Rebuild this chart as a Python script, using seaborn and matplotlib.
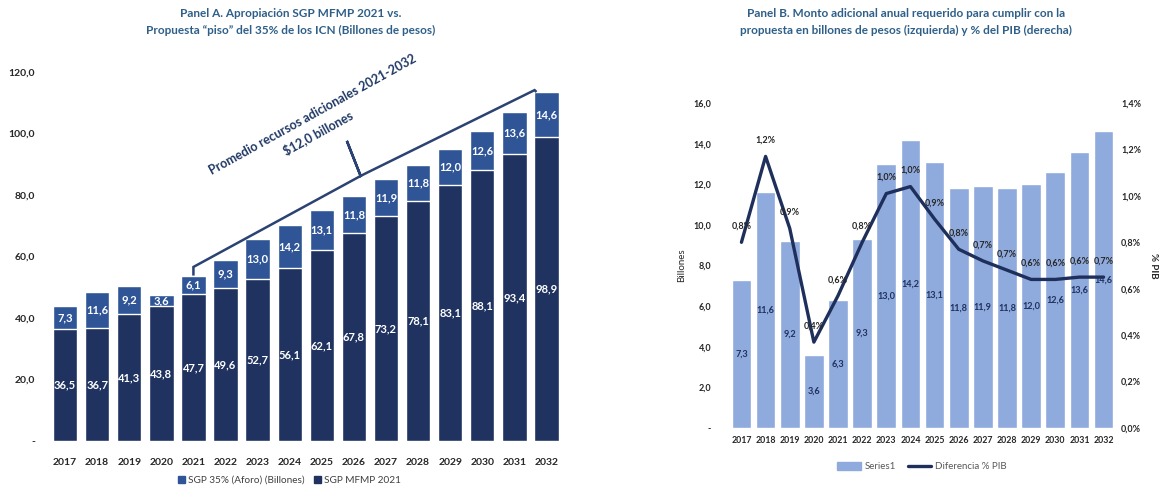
import numpy as np
import pandas as pd
import matplotlib
matplotlib.use("Agg")
import matplotlib.pyplot as plt
import seaborn as sns
from matplotlib.patches import Patch
from matplotlib.lines import Line2D

# ---------------- data ----------------
years = [str(y) for y in range(2017, 2033)]
sgp_mfmp_2021 = [36.5, 36.7, 41.3, 43.8, 47.7, 49.6, 52.7, 56.1,
                 62.1, 67.8, 73.2, 78.1, 83.1, 88.1, 93.4, 98.9]
sgp_aforo_extra = [7.3, 11.6, 9.2, 3.6, 6.1, 9.3, 13.0, 14.2,
                   13.1, 11.8, 11.9, 11.8, 12.0, 12.6, 13.6, 14.6]

monto_adicional = [7.3, 11.6, 9.2, 3.6, 6.3, 9.3, 13.0, 14.2,
                   13.1, 11.8, 11.9, 11.8, 12.0, 12.6, 13.6, 14.6]
diferencia_pib = [0.80, 1.17, 0.86, 0.37, 0.57, 0.80, 1.01, 1.04,
                  0.90, 0.77, 0.72, 0.68, 0.64, 0.64, 0.65, 0.65]
diferencia_pib_labels = ["0,8%", "1,2%", "0,9%", "0,4%", "0,6%", "0,8%", "1,0%", "1,0%",
                         "0,9%", "0,8%", "0,7%", "0,7%", "0,6%", "0,6%", "0,6%", "0,7%"]

yticks_a = [0, 20, 40, 60, 80, 100, 120]
yticks_b_left = [0, 2, 4, 6, 8, 10, 12, 14, 16]
yticks_b_right = [0.0, 0.2, 0.4, 0.6, 0.8, 1.0, 1.2, 1.4]

title_a = "Panel A. Apropiación SGP MFMP 2021 vs.\nPropuesta “piso” del 35% de los ICN (Billones de pesos)"
title_b = ("Panel B. Monto adicional anual requerido para cumplir con la\n"
           "propuesta en billones de pesos (izquierda) y % del PIB (derecha)")
annot_line1 = "Promedio recursos adicionales 2021-2032"
annot_line2 = "$12,0 billones"
# brace outline (data coordinates of panel A)
brace_x = [4.0, 4.0, 9.21, 8.78, 9.21, 9.40, 14.63, 14.69]
brace_y = [53.8, 56.6, 86.2, 97.6, 86.2, 87.2, 114.1, 113.5]

# ---------------- style ----------------
C_TOP = "#2F5597"
C_BOT = "#1F3260"
C_B_BAR = "#8FAADC"
C_LINE = "#1F2F5C"
C_TITLE = "#2E5F88"
C_TEXT = "#262626"

sns.set_theme(style="white")
plt.rcParams["font.family"] = ["Lato", "DejaVu Sans"]


def fmt(v):
    return f"{v:.1f}".replace(".", ",")


fig = plt.figure(figsize=(11.67, 4.91), dpi=100)

# ---------------- Panel A ----------------
axA = fig.add_axes([0.0420, 0.1018, 0.4400, 0.7516])
dfA = pd.DataFrame({"year": years,
                    "mfmp": sgp_mfmp_2021,
                    "extra": sgp_aforo_extra})
dfA["total"] = dfA["mfmp"] + dfA["extra"]

sns.barplot(data=dfA, x="year", y="total", color=C_TOP, width=0.76,
            saturation=1, ax=axA)
sns.barplot(data=dfA, x="year", y="mfmp", color=C_BOT, width=0.76,
            saturation=1, ax=axA)

for i, (b, t) in enumerate(zip(sgp_mfmp_2021, sgp_aforo_extra)):
    axA.text(i, b / 2, fmt(b), ha="center", va="center", color="white",
             fontsize=8, fontweight="bold")
    axA.text(i, b + t / 2, fmt(t), ha="center", va="center", color="white",
             fontsize=8, fontweight="bold")

axA.plot(brace_x, brace_y, color="#2B4273", lw=1.8, solid_joinstyle="miter",
         solid_capstyle="butt")
axA.text(7.72, 106.2, annot_line1, rotation=29, ha="center", va="center",
         rotation_mode="anchor", fontsize=9, fontweight="bold", color="#1F3864")
axA.text(7.88, 100.4, annot_line2, rotation=29, ha="center", va="center",
         rotation_mode="anchor", fontsize=9, fontweight="bold", color="#1F3864")

axA.set_xlim(-0.5, 15.5)
axA.set_ylim(0, 120)
axA.set_yticks(yticks_a)
axA.set_yticklabels(["-" if v == 0 else fmt(v) for v in yticks_a])
axA.set_xlabel("")
axA.set_ylabel("")
axA.tick_params(axis="both", length=0, labelsize=7.5, colors=C_TEXT)
axA.tick_params(axis="y", pad=10)
axA.tick_params(axis="x", pad=12)
for lab in axA.get_xticklabels() + axA.get_yticklabels():
    lab.set_fontweight("bold")
for s in axA.spines.values():
    s.set_visible(False)

legA = fig.legend(handles=[Patch(color=C_TOP, label="SGP 35% (Aforo) (Billones)"),
                           Patch(color=C_BOT, label="SGP MFMP 2021")],
                  loc="center", bbox_to_anchor=(0.248, 0.022), ncol=2, frameon=False,
                  fontsize=7.2, handlelength=0.7, handleheight=0.7, handletextpad=0.3,
                  columnspacing=1.0)
for t in legA.get_texts():
    t.set_color("#404040")

fig.text(0.249, 0.955, title_a, ha="center", va="center", fontsize=8.5,
         fontweight="bold", color=C_TITLE, linespacing=1.6)

# ---------------- Panel B ----------------
axB = fig.add_axes([0.6250, 0.1283, 0.3310, 0.6619])
dfB = pd.DataFrame({"year": years, "monto": monto_adicional,
                    "pib": diferencia_pib, "pos": np.arange(len(years))})
sns.barplot(data=dfB, x="year", y="monto", color=C_B_BAR, width=0.82,
            saturation=1, ax=axB)
for i, v in enumerate(monto_adicional):
    axB.text(i, v / 2, fmt(v), ha="center", va="center", color="#1F3260",
             fontsize=6.6, fontweight="bold")

axB.set_xlim(-0.5, 15.5)
axB.set_ylim(0, 16)
axB.set_yticks(yticks_b_left)
axB.set_yticklabels(["-" if v == 0 else fmt(v) for v in yticks_b_left])
axB.set_xlabel("")
axB.set_ylabel("Billones", fontsize=7, color=C_TEXT, labelpad=5)
axB.tick_params(axis="both", length=0, colors=C_TEXT)
axB.tick_params(axis="y", pad=13, labelsize=6.5)
axB.tick_params(axis="x", pad=6, labelsize=6.3)
for lab in axB.get_xticklabels() + axB.get_yticklabels():
    lab.set_fontweight("bold")
for s in axB.spines.values():
    s.set_visible(False)

axB2 = axB.twinx()
sns.lineplot(data=dfB, x="pos", y="pib", color=C_LINE, lw=2.4, ax=axB2,
             legend=False)
for i, (v, lab) in enumerate(zip(diferencia_pib, diferencia_pib_labels)):
    axB2.annotate(lab, (i, v), xytext=(0, 11.5), textcoords="offset points",
                  ha="center", va="center", fontsize=6.5, fontweight="bold",
                  color=C_TEXT)
axB2.set_xlim(-0.5, 15.5)
axB2.set_ylim(0, 1.4)
axB2.set_yticks(yticks_b_right)
axB2.set_yticklabels([fmt(v) + "%" for v in yticks_b_right])
axB2.set_xlabel("")
axB2.set_ylabel("% PIB", rotation=270, fontsize=7, color=C_TEXT, labelpad=12,
                fontweight="bold")
axB2.tick_params(axis="y", length=0, pad=4, labelsize=6.5, colors=C_TEXT)
for lab in axB2.get_yticklabels():
    lab.set_fontweight("bold")
for s in axB2.spines.values():
    s.set_visible(False)
axB2.grid(False)
axB.grid(False)

legB = fig.legend(handles=[Patch(color=C_B_BAR, label="Series1"),
                           Line2D([0], [0], color=C_LINE, lw=2.4, label="Diferencia % PIB")],
                  loc="center", bbox_to_anchor=(0.79, 0.049), ncol=2, frameon=False,
                  fontsize=7, handlelength=2.4, handleheight=0.8, handletextpad=0.4,
                  columnspacing=1.2)
for t in legB.get_texts():
    t.set_color("#595959")

fig.text(0.776, 0.955, title_b, ha="center", va="center", fontsize=8.5,
         fontweight="bold", color=C_TITLE, linespacing=1.6)

fig.savefig("out.png", dpi=100)
